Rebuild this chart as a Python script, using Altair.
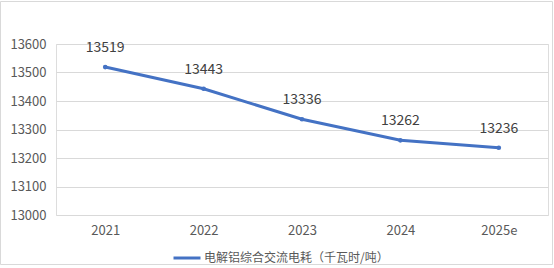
import altair as alt
import pandas as pd

years = ["2021", "2022", "2023", "2024", "2025e"]
values = [13519, 13443, 13336, 13262, 13236]
series_name = "电解铝综合交流电耗（千瓦时/吨）"
y_ticks = [13000, 13100, 13200, 13300, 13400, 13500, 13600]

df = pd.DataFrame({"year": years, "value": values, "series": [series_name] * len(years)})

FONT = "Noto Sans CJK SC"
BLUE = "#4472C4"

x = alt.X("year:N", sort=years, title=None,
          axis=alt.Axis(labelAngle=0, ticks=False, domain=False, labelFontSize=13,
                        labelColor="#595959", labelPadding=9, labelFont=FONT),
          scale=alt.Scale(paddingInner=0, paddingOuter=0))
y = alt.Y("value:Q", title=None,
          scale=alt.Scale(domain=[13000, 13600], zero=False, nice=False),
          axis=alt.Axis(values=y_ticks, format="d", ticks=False, domain=False, labelFontSize=13,
                        labelColor="#595959", labelPadding=10, labelFont=FONT,
                        gridColor="#D9D9D9", gridWidth=1))

color = alt.Color("series:N", scale=alt.Scale(range=[BLUE]),
                  legend=alt.Legend(title=None, orient="none", legendX=116, legendY=199,
                                    symbolType="stroke", symbolStrokeWidth=3, symbolSize=729,
                                    labelFontSize=12, labelColor="#595959", labelFont=FONT,
                                    labelLimit=0, symbolOffset=0, labelOffset=2))

base = alt.Chart(df)
line = base.mark_line(strokeWidth=3).encode(x=x, y=y, color=color)
pts = base.mark_point(filled=True, size=22, opacity=1).encode(
    x=x, y=y, color=alt.Color("series:N", legend=None, scale=alt.Scale(range=[BLUE])))
labels = base.mark_text(dy=-19, fontSize=14, color="#404040", font=FONT, baseline="middle").encode(
    x=x, y=y, text=alt.Text("value:Q", format="d"))

border = alt.Chart(pd.DataFrame({"a": [0]})).mark_rect(
    filled=False, stroke="#D9D9D9", strokeWidth=1, clip=False).encode(
    x=alt.value(-55.5), x2=alt.value(496.5), y=alt.value(-42.5), y2=alt.value(220.5))

chart = alt.layer(border, line, pts, labels).properties(
    width=492, height=171,
    autosize=alt.AutoSizeParams(type="none"),
    padding={"left": 56, "top": 44, "right": 6, "bottom": 53},
    background="white",
).configure_view(stroke=None).configure(font=FONT)

chart.save("out.html", embed_options={"renderer": "svg", "actions": False})
